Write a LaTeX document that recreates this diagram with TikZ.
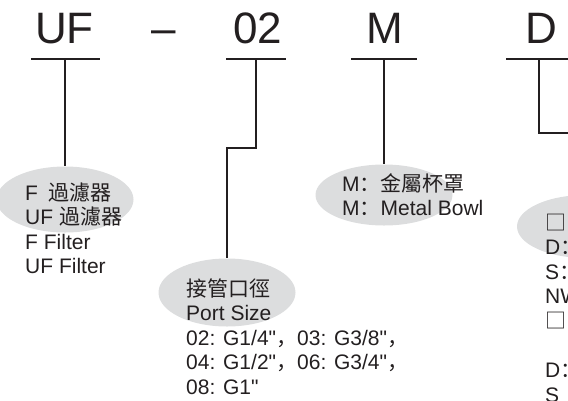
\documentclass[tikz,border=0pt]{standalone}
\usepackage{fontspec}
\setmainfont{Liberation Sans}[Ligatures=TeXOff]
\newfontfamily\cjk{Noto Sans CJK SC}
\usetikzlibrary{shapes.geometric}
\definecolor{ink}{RGB}{35,31,32}
\definecolor{blobgray}{RGB}{220,221,222}

\begin{document}
\begin{tikzpicture}[x=1pt,y=-1pt]

\tikzset{code/.style = {font=\fontsize{44}{50}\selectfont, text=ink, inner sep=0, anchor=base}}
\tikzset{bubble/.style = {ellipse, fill=blobgray, minimum width=137, minimum height=66, inner sep=0}}
\tikzset{desc/.style = {font=\fontsize{21}{24.6}\selectfont, text=ink, inner sep=0, anchor=base west, align=left}}
\tikzset{line/.style = {draw=ink, line width=1.2pt}}
\useasboundingbox (0,0) rectangle (568,400);
%code letters
\node[code] (uf) at (64.5,43) {UF};
\node[code] (dash) at (163.5,43) {\textendash};
\node[code] (port) at (257.5,43) {02};
\node[code] (m) at (384.5,43) {M};
\node[code] (d) at (541.5,43) {D};
%underlines
\coordinate (uf-l) at (31,59);
\coordinate (uf-r) at (100,59);
\coordinate (port-l) at (226,59);
\coordinate (port-r) at (286,59);
\coordinate (m-l) at (351,59);
\coordinate (m-r) at (417,59);
\coordinate (d-l) at (506,59);
\coordinate (d-r) at (570,59);
\coordinate (port-k) at (256,148);
\coordinate (d-k) at (539,133);
\coordinate (d-end) at (570,133);
%bubbles
\node[bubble] (uf-b) at (65,199.5) {};
\node[bubble, minimum height=68] (port-b) at (227,292.5) {};
\node[bubble, minimum height=61] (m-b) at (384,195) {};
\node[bubble, minimum height=63] (d-b) at (585.5,226.5) {};
%texts (base = last line)
\node[desc] (uf-t) at (25,273.8) {F\hspace{.5em}{\cjk 過濾器}\\UF {\cjk 過濾器}\\F Filter\\UF Filter};
\node[desc] (port-t) at (186,394.4) {{\cjk 接管口徑}\\Port Size\\02: G1/4"{\cjk ，}03: G3/8"{\cjk ，}\\04: G1/2"{\cjk ，}06: G3/4"{\cjk ，}\\08: G1"};
\node[desc] (m-t) at (342,215.6) {M{\cjk ：金屬杯罩}\\M{\cjk ：}Metal Bowl};
\node[desc] (d-t) at (545,402.2) {{\cjk □}\\D{\cjk ：}\\S{\cjk ：}\\NW\\{\cjk □}\\[24.6pt]D{\cjk ：}\\S};
%lines
\draw[line] (uf-l) -- (uf-r);
\draw[line] (port-l) -- (port-r);
\draw[line] (m-l) -- (m-r);
\draw[line] (d-l) -- (d-r);
\draw[line] (uf-b |- uf-l) -- (uf-b.north);
\draw[line] (port-k |- port-l) -- (port-k) -| (port-b.north);
\draw[line] (m-b |- m-l) -- (m-b.north);
\draw[line] (d-k |- d-l) -- (d-k) -- (d-end);

\end{tikzpicture}
\end{document}
